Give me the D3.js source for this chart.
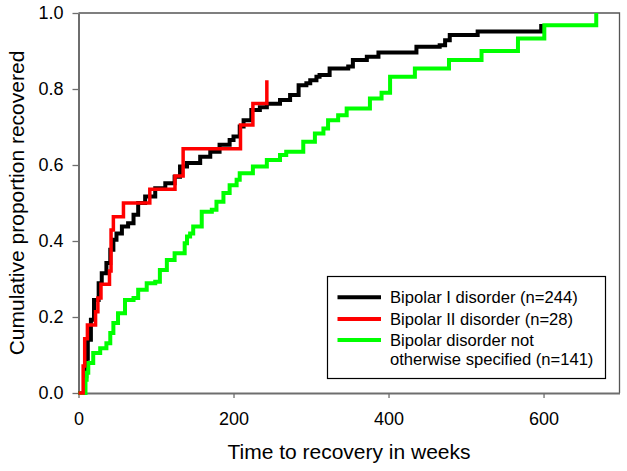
<!DOCTYPE html>
<html>
<head>
<meta charset="utf-8">
<script src="https://cdn.jsdelivr.net/npm/d3@7"></script>
<style>
	body { margin: 0; background: #fff; }
	svg { display: block; font-family: "Liberation Sans", Arial, sans-serif; }
</style>
</head>
<body>
<div id="chart"></div>
<script>

/* --------------------- data ------------------------------------------- */

// [weeks, cumulative proportion recovered]
let bipolarI = [
	[0, 0], [8, 0.044], [10, 0.09], [12, 0.14], [16, 0.193], [20, 0.245], [26, 0.289],
	[30, 0.315], [36, 0.342], [41, 0.377], [45, 0.403], [49, 0.42], [56, 0.438],
	[64, 0.447], [71, 0.469], [77, 0.5], [86, 0.517], [99, 0.539], [112, 0.552],
	[124, 0.569], [131, 0.596], [140, 0.605], [157, 0.622], [170, 0.635], [182, 0.653],
	[195, 0.666], [200, 0.675], [208, 0.701], [213, 0.718], [223, 0.745], [234, 0.752],
	[243, 0.761], [260, 0.771], [273, 0.784], [284, 0.81], [294, 0.815], [299, 0.823],
	[307, 0.832], [311, 0.837], [324, 0.854], [348, 0.859], [354, 0.876], [372, 0.885],
	[387, 0.896], [436, 0.911], [466, 0.915], [473, 0.928], [479, 0.942], [515, 0.951],
	[597, 0.971]
];

let bipolarII = [
	[0, 0], [6, 0.071], [8, 0.143], [11.5, 0.179], [22, 0.214], [25, 0.25], [29, 0.286],
	[40, 0.321], [42, 0.429], [45, 0.464], [58, 0.5], [92, 0.536], [124.5, 0.571],
	[135, 0.643], [209, 0.705], [225, 0.762], [243, 0.823]
];

let bipolarNos = [
	[0, 0], [9, 0.035], [10.5, 0.053], [12.6, 0.079], [19, 0.105], [28, 0.118], [36, 0.131],
	[41, 0.158], [45, 0.184], [51, 0.21], [60, 0.245], [71, 0.25], [77, 0.272], [88, 0.289],
	[99, 0.293], [105, 0.324], [114, 0.35], [124, 0.368], [137, 0.394], [140, 0.412],
	[144, 0.42], [148, 0.438], [159, 0.477], [172, 0.482], [178, 0.503], [187, 0.526],
	[195, 0.547], [204, 0.561], [208, 0.578], [225, 0.596], [243, 0.613], [260, 0.626],
	[268, 0.635], [290, 0.661], [305, 0.683], [316, 0.696], [322, 0.718], [335, 0.731],
	[346, 0.749], [376, 0.775], [391, 0.79], [402, 0.832], [434, 0.854], [478, 0.876],
	[520, 0.9], [567, 0.933], [601, 0.968], [668, 1.0]
];

let seriesNames = [
	['Bipolar I disorder (n=244)'],
	['Bipolar II disorder (n=28)'],
	['Bipolar disorder not', 'otherwise specified (n=141)']
];
let seriesColors = ['#000000', '#ff0000', '#00ff00'];

let xTicks = [0, 200, 400, 600];
let yTicks = [0, 0.2, 0.4, 0.6, 0.8, 1.0];

/* --------------------- chart ---------------------- */

let width = 627;
let height = 471;
let plotLeft = 78.5, plotRight = 619.5, plotTop = 13, plotBottom = 393;

let svg = d3.select('#chart')
	.append('svg')
	.attr('width', width)
	.attr('height', height);

let x = d3.scaleLinear()
	.domain([0, 698])
	.range([plotLeft, plotRight]);

let y = d3.scaleLinear()
	.domain([0, 1])
	.range([plotBottom, plotTop]);

// frame: top and right edges
svg.append('path')
	.attr('d', 'M' + plotLeft + ',' + plotTop + 'H' + plotRight + 'V' + plotBottom)
	.attr('fill', 'none')
	.attr('stroke', '#555')
	.attr('stroke-width', 1.3);

let xAxis = svg.append('g')
	.attr('transform', 'translate(0,' + plotBottom + ')')
	.call(d3.axisBottom(x).tickValues(xTicks).tickSize(5).tickPadding(14).tickSizeOuter(0));

let yAxis = svg.append('g')
	.attr('transform', 'translate(' + plotLeft + ',0)')
	.call(d3.axisLeft(y).tickValues(yTicks).tickSize(6).tickPadding(9).tickSizeOuter(0)
		.tickFormat(d3.format('.1f')));

[xAxis, yAxis].forEach(function(ax) {
	ax.select('.domain').attr('stroke', '#6e6e6e').attr('stroke-width', 2);
	ax.selectAll('.tick line').attr('stroke', '#6e6e6e').attr('stroke-width', 1.3);
	ax.selectAll('.tick text')
		.attr('fill', '#000')
		.style('font-size', '18px')
		.style('font-family', '"Liberation Sans", Arial, sans-serif');
});

// step curves
let line = d3.line()
	.x(d => x(d[0]))
	.y(d => y(d[1]))
	.curve(d3.curveStepAfter);

let allSeries = [bipolarI, bipolarNos, bipolarII];
let allColors = [seriesColors[0], seriesColors[2], seriesColors[1]];
let allWidths = [4, 4, 3.5];

allSeries.forEach(function(s, i) {
	svg.append('path')
		.datum(s)
		.attr('d', line)
		.attr('fill', 'none')
		.attr('stroke', allColors[i])
		.attr('stroke-width', allWidths[i])
		.attr('stroke-linejoin', 'miter');
});

// axis titles
svg.append('text')
	.attr('x', (plotLeft + plotRight) / 2)
	.attr('y', 459)
	.attr('text-anchor', 'middle')
	.style('font-size', '21px')
	.text('Time to recovery in weeks');

svg.append('text')
	.attr('transform', 'translate(24,' + ((plotTop + plotBottom) / 2) + ') rotate(-90)')
	.attr('text-anchor', 'middle')
	.style('font-size', '21px')
	.text('Cumulative proportion recovered');

// legend
let legend = svg.append('g');
legend.append('rect')
	.attr('x', 327.5)
	.attr('y', 276.5)
	.attr('width', 278)
	.attr('height', 102)
	.attr('fill', '#fff')
	.attr('stroke', '#000')
	.attr('stroke-width', 1.2);

let legendRows = [297.3, 319, 340];
seriesNames.forEach(function(name, i) {
	legend.append('line')
		.attr('x1', 337.5)
		.attr('x2', 381)
		.attr('y1', legendRows[i])
		.attr('y2', legendRows[i])
		.attr('stroke', seriesColors[i])
		.attr('stroke-width', 4);
	name.forEach(function(txt, j) {
		legend.append('text')
			.attr('x', 390)
			.attr('y', legendRows[i] + 6 + j * 19)
			.style('font-size', '16.6px')
			.text(txt);
	});
});

</script>
</body>
</html>
